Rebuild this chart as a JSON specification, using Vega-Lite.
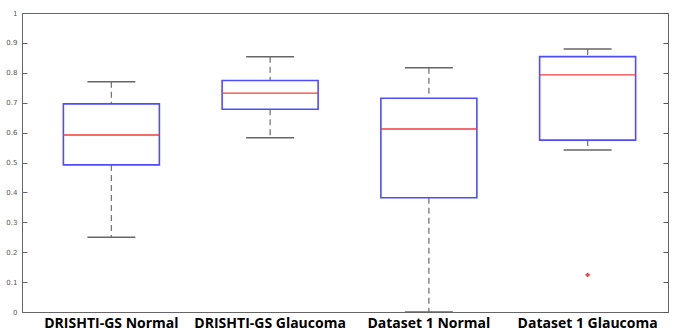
{
  "$schema": "https://vega.github.io/schema/vega-lite/v6.json",
  "width": 646,
  "height": 299,
  "autosize": "none",
  "padding": {"left": 22, "top": 13, "right": 9, "bottom": 18},
  "background": "white",
  "config": {
    "view": {"stroke": "#666", "strokeWidth": 1},
    "axis": {"grid": false, "domainColor": "#666", "tickColor": "#666"}
  },
  "datasets": {
    "stats": [
      {"group": "DRISHTI-GS Normal", "lower": 0.25, "q1": 0.492, "median": 0.592, "q3": 0.696, "upper": 0.77},
      {"group": "DRISHTI-GS Glaucoma", "lower": 0.583, "q1": 0.678, "median": 0.732, "q3": 0.774, "upper": 0.854},
      {"group": "Dataset 1 Normal", "lower": 0.0, "q1": 0.382, "median": 0.612, "q3": 0.715, "upper": 0.817},
      {"group": "Dataset 1 Glaucoma", "lower": 0.542, "q1": 0.575, "median": 0.793, "q3": 0.854, "upper": 0.88}
    ],
    "outliers": [
      {"group": "Dataset 1 Glaucoma", "value": 0.124}
    ]
  },
  "encoding": {
    "x": {
      "field": "group",
      "type": "nominal",
      "sort": ["DRISHTI-GS Normal", "DRISHTI-GS Glaucoma", "Dataset 1 Normal", "Dataset 1 Glaucoma"],
      "scale": {"paddingInner": 0, "paddingOuter": 0, "range": [10, 645]},
      "axis": {
        "title": null,
        "labelAngle": 0,
        "ticks": false,
        "labelFont": "Open Sans",
        "labelFontWeight": "bold",
        "labelFontSize": 14,
        "labelColor": "#000",
        "labelPadding": 4,
        "domainColor": "#666"
      }
    }
  },
  "layer": [
    {
      "layer": [
        {
          "data": {"name": "stats"},
          "mark": {"type": "rule", "stroke": "#777", "strokeDash": [6, 4], "strokeWidth": 1.3},
          "encoding": {
            "y": {
              "field": "upper",
              "type": "quantitative",
              "scale": {"domain": [0, 1], "nice": false, "zero": false},
              "axis": {"title": null, "values": [0, 0.1, 0.2, 0.3, 0.4, 0.5, 0.6, 0.7, 0.8, 0.9, 1], "tickSize": -5, "labelOverlap": false, "format": "~g", "labelFontSize": 7, "labelColor": "#555", "labelFont": "DejaVu Sans", "labelPadding": 10}
            },
            "y2": {"field": "q3"}
          }
        },
        {
          "data": {"name": "stats"},
          "mark": {"type": "rule", "stroke": "#777", "strokeDash": [6, 4], "strokeWidth": 1.3},
          "encoding": {
            "y": {"field": "q1", "type": "quantitative", "axis": {"title": null, "values": [0, 0.1, 0.2, 0.3, 0.4, 0.5, 0.6, 0.7, 0.8, 0.9, 1], "tickSize": -5, "labelOverlap": false, "format": "~g", "labelFontSize": 7, "labelColor": "#555", "labelFont": "DejaVu Sans", "labelPadding": 10}},
            "y2": {"field": "lower"}
          }
        },
        {
          "data": {"name": "stats"},
          "mark": {"type": "tick", "orient": "horizontal", "size": 48, "color": "#666", "thickness": 1.5, "opacity": 1},
          "encoding": {
            "y": {"field": "upper", "type": "quantitative", "axis": {"title": null, "values": [0, 0.1, 0.2, 0.3, 0.4, 0.5, 0.6, 0.7, 0.8, 0.9, 1], "tickSize": -5, "labelOverlap": false, "format": "~g", "labelFontSize": 7, "labelColor": "#555", "labelFont": "DejaVu Sans", "labelPadding": 10}}
          }
        },
        {
          "data": {"name": "stats"},
          "mark": {"type": "tick", "orient": "horizontal", "size": 48, "color": "#666", "thickness": 1.5, "opacity": 1},
          "encoding": {
            "y": {"field": "lower", "type": "quantitative", "axis": {"title": null, "values": [0, 0.1, 0.2, 0.3, 0.4, 0.5, 0.6, 0.7, 0.8, 0.9, 1], "tickSize": -5, "labelOverlap": false, "format": "~g", "labelFontSize": 7, "labelColor": "#555", "labelFont": "DejaVu Sans", "labelPadding": 10}}
          }
        },
        {
          "data": {"name": "stats"},
          "mark": {"type": "bar", "size": 96, "fill": "white", "fillOpacity": 0, "stroke": "#4d4dff", "strokeWidth": 1.6},
          "encoding": {
            "y": {"field": "q3", "type": "quantitative", "axis": {"title": null, "values": [0, 0.1, 0.2, 0.3, 0.4, 0.5, 0.6, 0.7, 0.8, 0.9, 1], "tickSize": -5, "labelOverlap": false, "format": "~g", "labelFontSize": 7, "labelColor": "#555", "labelFont": "DejaVu Sans", "labelPadding": 10}},
            "y2": {"field": "q1"}
          }
        },
        {
          "data": {"name": "stats"},
          "mark": {"type": "tick", "orient": "horizontal", "size": 96, "color": "#f03c3c", "thickness": 1.4, "opacity": 1},
          "encoding": {
            "y": {"field": "median", "type": "quantitative", "axis": {"title": null, "values": [0, 0.1, 0.2, 0.3, 0.4, 0.5, 0.6, 0.7, 0.8, 0.9, 1], "tickSize": -5, "labelOverlap": false, "format": "~g", "labelFontSize": 7, "labelColor": "#555", "labelFont": "DejaVu Sans", "labelPadding": 10}}
          }
        }
      ]
    },
    {
      "data": {"name": "outliers"},
      "mark": {"type": "point", "shape": "cross", "size": 18, "filled": true, "color": "#f03c3c", "opacity": 1},
      "encoding": {
        "y": {
          "field": "value",
          "type": "quantitative",
          "scale": {"domain": [0, 1], "nice": false, "zero": false},
          "axis": {
            "orient": "right",
            "title": null,
            "labels": false,
            "values": [0, 0.1, 0.2, 0.3, 0.4, 0.5, 0.6, 0.7, 0.8, 0.9, 1],
            "tickSize": -5,
            "tickColor": "#555",
            "domainColor": "#666"
          }
        }
      }
    }
  ],
  "resolve": {"scale": {"y": "independent"}, "axis": {"y": "independent"}}
}
